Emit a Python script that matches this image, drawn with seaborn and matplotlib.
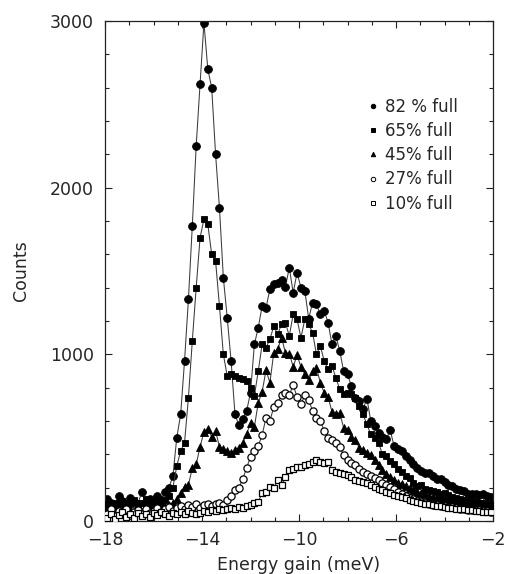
import numpy as np
import pandas as pd
import seaborn as sns
import matplotlib
matplotlib.use("Agg")
import matplotlib.pyplot as plt
from matplotlib.lines import Line2D
from matplotlib.ticker import MultipleLocator, FixedLocator

# Energy channels (meV)
energy = [
    -17.92, -17.76, -17.60, -17.44, -17.28, -17.12, -16.96, -16.80, -16.64, -16.48,
    -16.32, -16.16, -16.00, -15.84, -15.68, -15.52, -15.36, -15.20, -15.04, -14.88,
    -14.72, -14.56, -14.40, -14.24, -14.08, -13.92, -13.76, -13.60, -13.44, -13.28,
    -13.12, -12.96, -12.80, -12.64, -12.48, -12.32, -12.16, -12.00, -11.84, -11.68,
    -11.52, -11.36, -11.20, -11.04, -10.88, -10.72, -10.56, -10.40, -10.24, -10.08,
    -9.92, -9.76, -9.60, -9.44, -9.28, -9.12, -8.96, -8.80, -8.64, -8.48,
    -8.32, -8.16, -8.00, -7.84, -7.68, -7.52, -7.36, -7.20, -7.04, -6.88,
    -6.72, -6.56, -6.40, -6.24, -6.08, -5.92, -5.76, -5.60, -5.44, -5.28,
    -5.12, -4.96, -4.80, -4.64, -4.48, -4.32, -4.16, -4.00, -3.84, -3.68,
    -3.52, -3.36, -3.20, -3.04, -2.88, -2.72, -2.56, -2.40, -2.24, -2.08,
]

counts_82 = [
    135, 110, 95, 150, 120, 100, 140, 115, 105, 175,
    100, 130, 110, 150, 125, 175, 200, 270, 500, 640,
    960, 1330, 1770, 2250, 2620, 2990, 2710, 2600, 2200, 1880,
    1460, 1220, 960, 640, 575, 610, 660, 770, 1060, 1160,
    1290, 1280, 1390, 1420, 1430, 1445, 1405, 1520, 1370, 1490,
    1400, 1380, 1215, 1310, 1300, 1240, 1260, 1190, 1060, 1110,
    1020, 900, 880, 810, 740, 720, 670, 735, 600, 570,
    530, 505, 490, 545, 450, 435, 420, 390, 365, 340,
    318, 300, 290, 288, 270, 250, 255, 235, 216, 210,
    195, 186, 180, 165, 160, 165, 155, 160, 150, 145,
]

counts_65 = [
    100, 85, 110, 95, 120, 80, 100, 125, 90, 110,
    135, 95, 115, 100, 110, 125, 150, 200, 330, 420,
    470, 740, 1080, 1400, 1700, 1810, 1780, 1600, 1560, 1290,
    1000, 870, 880, 870, 860, 850, 840, 800, 750, 900,
    1060, 1040, 1090, 1170, 1120, 1180, 1190, 1110, 1240, 1210,
    1100, 1210, 1180, 1130, 1000, 1050, 960, 910, 930, 860,
    790, 760, 770, 760, 740, 690, 640, 580, 520, 500,
    470, 400, 390, 360, 345, 310, 295, 270, 260, 230,
    210, 215, 195, 188, 180, 175, 165, 168, 155, 145,
    140, 132, 126, 120, 118, 112, 110, 108, 100, 96,
]

counts_45 = [
    70, 55, 80, 60, 90, 50, 75, 60, 85, 55,
    70, 90, 65, 80, 75, 85, 95, 110, 130, 170,
    205, 216, 318, 340, 445, 535, 555, 505, 540, 445,
    430, 418, 408, 426, 440, 470, 520, 590, 565, 710,
    775, 905, 830, 1010, 1030, 1100, 1010, 1005, 925, 995,
    925, 880, 846, 900, 918, 830, 768, 745, 655, 640,
    648, 560, 546, 505, 486, 440, 425, 410, 396, 366,
    335, 306, 285, 264, 245, 230, 222, 210, 200, 188,
    176, 168, 160, 152, 146, 142, 138, 134, 130, 128,
    126, 122, 118, 114, 112, 110, 108, 110, 106, 108,
]

counts_27 = [
    40, 75, 30, 60, 45, 70, 35, 55, 65, 40,
    70, 50, 60, 80, 55, 70, 85, 60, 80, 90,
    75, 95, 85, 100, 80, 95, 105, 90, 100, 110,
    95, 126, 150, 186, 200, 250, 320, 384, 420, 450,
    516, 620, 600, 684, 708, 756, 768, 756, 816, 744,
    700, 756, 726, 660, 618, 600, 540, 498, 486, 470,
    444, 396, 366, 350, 335, 315, 294, 280, 270, 258,
    246, 228, 218, 205, 195, 175, 165, 150, 140, 130,
    120, 112, 106, 100, 96, 94, 90, 88, 84, 82,
    78, 74, 70, 66, 68, 64, 66, 62, 58, 55,
]

counts_10 = [
    20, 45, 15, 35, 55, 25, 40, 20, 50, 30,
    45, 25, 50, 35, 55, 40, 30, 50, 45, 55,
    40, 60, 50, 45, 48, 60, 55, 66, 60, 70,
    65, 72, 78, 75, 85, 80, 92, 96, 110, 114,
    170, 175, 204, 198, 246, 216, 264, 306, 315, 324,
    324, 336, 345, 354, 366, 354, 348, 354, 306, 294,
    288, 285, 276, 262, 246, 238, 234, 228, 216, 205,
    195, 185, 176, 168, 158, 150, 144, 136, 128, 120,
    114, 110, 105, 100, 96, 92, 88, 85, 80, 78,
    75, 72, 70, 66, 64, 62, 58, 55, 56, 54,
]

labels = ["82 % full", "65% full", "45% full", "27% full", "10% full"]
series = [counts_82, counts_65, counts_45, counts_27, counts_10]
x_ticks = [-18, -14, -10, -6, -2]
y_ticks = [0, 1000, 2000, 3000]

# marker, size, face colour, edge width for each filling
styles = [
    ("o", 5.6, "black", 0.6),
    ("s", 4.8, "black", 0.6),
    ("^", 5.4, "black", 0.6),
    ("o", 5.2, "white", 0.9),
    ("s", 4.5, "white", 0.9),
]

frames = []
for lab, vals in zip(labels, series):
    frames.append(pd.DataFrame({"energy": energy, "counts": vals, "filling": lab}))
df = pd.concat(frames, ignore_index=True)

sns.set_style("ticks")
plt.rcParams["font.family"] = ["DejaVu Sans"]
plt.rcParams["xtick.direction"] = "in"
plt.rcParams["ytick.direction"] = "in"

fig = plt.figure(figsize=(5.05, 5.74), dpi=100)
ax = fig.add_axes([105 / 505, 53 / 574, 388 / 505, 500 / 574])

for k, (lab, (mk, ms, fc, mew)) in enumerate(zip(labels, styles)):
    sub = df[df["filling"] == lab]
    sns.lineplot(
        data=sub, x="energy", y="counts", ax=ax,
        color="#3a3a3a", linewidth=0.75,
        marker=mk, markersize=ms, markerfacecolor=fc,
        markeredgecolor="black", markeredgewidth=mew,
        zorder=2 + k, legend=False,
    )

ax.set_xlim(-18, -2)
ax.set_ylim(0, 3000)
ax.xaxis.set_major_locator(FixedLocator(x_ticks))
ax.xaxis.set_minor_locator(MultipleLocator(1))
ax.yaxis.set_major_locator(FixedLocator(y_ticks))
ax.yaxis.set_minor_locator(MultipleLocator(200))
ax.tick_params(which="both", top=True, right=True, direction="in",
               color="#222222", width=0.8)
ax.tick_params(which="major", length=5)
ax.tick_params(which="minor", length=3)
ax.tick_params(axis="x", labelsize=12.5, pad=7)
ax.tick_params(axis="y", labelsize=12.5, pad=8)
for sp in ax.spines.values():
    sp.set_visible(True)
    sp.set_color("#222222")
    sp.set_linewidth(0.9)

ax.set_xlabel("Energy gain (meV)", fontsize=12.5, labelpad=5)
ax.set_ylabel("Counts", fontsize=12.5, labelpad=14)

handles = [
    Line2D([], [], linestyle="none", marker=mk, markersize=3.2,
           markerfacecolor=fc, markeredgecolor="black", markeredgewidth=0.7)
    for (mk, ms, fc, mew) in styles
]
ax.legend(handles, labels, loc="upper left", bbox_to_anchor=(0.673, 0.846),
          frameon=False, fontsize=12, handlelength=0.8, handletextpad=0.35,
          labelspacing=0.37, borderaxespad=0, borderpad=0)

fig.savefig("out.png", dpi=100)
